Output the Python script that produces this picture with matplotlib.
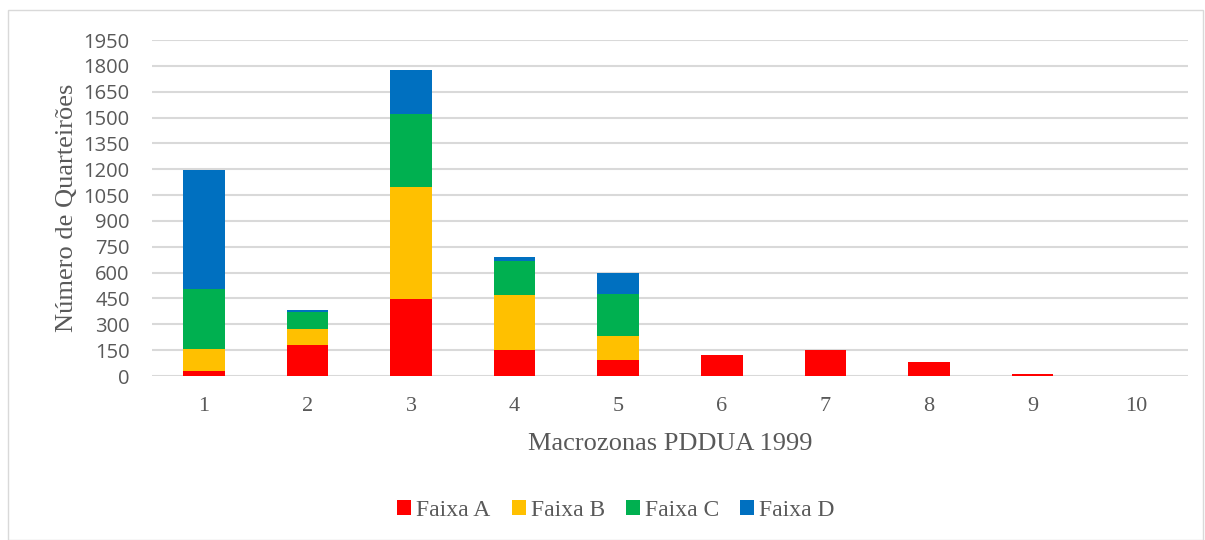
import numpy as np
import matplotlib.pyplot as plt
from matplotlib.patches import Rectangle

zonas = ["1", "2", "3", "4", "5", "6", "7", "8", "9", "10"]
faixa_a = [29, 182, 449, 149, 93, 124, 153, 83, 12, 0]
faixa_b = [128, 89, 649, 323, 137, 0, 0, 0, 0, 0]
faixa_c = [350, 99, 422, 194, 244, 0, 0, 0, 0, 0]
faixa_d = [687, 12, 255, 25, 126, 0, 0, 0, 0, 0]
yticks = list(range(0, 2000, 150))

series = [("Faixa A", faixa_a, "#FF0000"),
          ("Faixa B", faixa_b, "#FFC000"),
          ("Faixa C", faixa_c, "#00B050"),
          ("Faixa D", faixa_d, "#0070C0")]

fig = plt.figure(figsize=(12.05, 5.4), dpi=100)
ax = fig.add_axes([152 / 1205, 1 - 376 / 540, (1188 - 152) / 1205, (376 - 40) / 540])

# moldura do grafico
fig.patches.append(Rectangle((8 / 1205, 0), 1195 / 1205, 1 - 10 / 540, transform=fig.transFigure,
                             fill=False, edgecolor="#D9D9D9", linewidth=1))

x = np.arange(len(zonas))
bottom = np.zeros(len(zonas))
for nome, vals, cor in series:
    ax.bar(x, vals, 0.4, bottom=bottom, color=cor, label=nome, zorder=3)
    bottom += np.array(vals)

ax.set_xlim(-0.5, len(zonas) - 0.5)
ax.set_ylim(0, 1950)
ax.set_yticks(yticks)
ax.set_yticklabels([str(v) for v in yticks], fontfamily="Open Sans", fontsize=14.5, color="#595959")
ax.set_xticks(x)
ax.set_xticklabels(zonas, fontfamily="Liberation Serif", fontsize=16, color="#595959")
ax.tick_params(length=0)
ax.tick_params(axis="y", pad=16)
ax.tick_params(axis="x", pad=15)
ax.grid(axis="y", color="#D9D9D9", linewidth=1.5, zorder=0)
for s in ax.spines.values():
    s.set_visible(False)

ax.set_xlabel("Macrozonas PDDUA 1999", fontfamily="Liberation Serif", fontsize=19, color="#595959", labelpad=12)
ax.set_ylabel("Número de Quarteirões", fontfamily="Liberation Serif", fontsize=19, color="#595959", labelpad=4)

leg = fig.legend(loc="center", bbox_to_anchor=(616 / 1205, 1 - 510 / 540), ncol=4, frameon=False,
                 prop={"family": "Liberation Serif", "size": 17}, handlelength=0.6, handleheight=0.6,
                 handletextpad=0.2, columnspacing=0.9)
for t in leg.get_texts():
    t.set_color("#595959")

fig.savefig("out.png", dpi=100)
